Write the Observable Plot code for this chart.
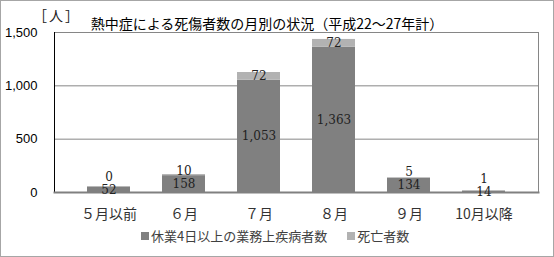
<!DOCTYPE html>
<html><head><meta charset="utf-8">
<script src="https://cdn.jsdelivr.net/npm/d3@7"></script>
<script src="https://cdn.jsdelivr.net/npm/@observablehq/plot@0.6"></script>
<style>
body{margin:0;background:#fff;}
#wrap{position:relative;width:554px;height:257px;outline:1px solid #a6a6a6;outline-offset:-1px;overflow:hidden;font-family:"Noto Sans CJK JP",sans-serif;background:#fff;}
#wrap svg{position:absolute;left:0;top:0;}
#title{position:absolute;left:0;width:534px;text-align:center;top:16px;font-size:14px;line-height:14px;color:#000;white-space:nowrap;}
#unit{position:absolute;left:33px;top:8px;font-size:14px;line-height:14px;color:#222;letter-spacing:2px;}
#legend{position:absolute;left:141px;top:229px;font-size:13px;line-height:14px;color:#404040;display:flex;align-items:center;white-space:nowrap;}
#legend .sw{display:inline-block;width:8px;height:8px;margin-right:2px;}
#legend .item{display:flex;align-items:center;margin-right:20px;}
</style>
</head><body>
<div id="wrap"></div>
<script>
const categories = ["５月以前", "６月", "７月", "８月", "９月", "10月以降"];
const seriesNames = ["休業4日以上の業務上疾病者数", "死亡者数"];
const injured = [52, 158, 1053, 1363, 134, 14];
const deaths = [0, 10, 72, 72, 5, 1];
const yTicks = [0, 500, 1000, 1500];
const colors = ["#808080", "#b2b2b2"];
const titleText = "熱中症による死傷者数の月別の状況（平成22～27年計）";
const unitText = "［人］";

const rows = [];
categories.forEach((c, i) => {
  rows.push({cat: c, series: seriesNames[0], value: injured[i]});
  rows.push({cat: c, series: seriesNames[1], value: deaths[i]});
});
const darkRows = categories.map((c, i) => ({cat: c, d: injured[i], l: deaths[i]}));
const fmt = d3.format(",");
const pxPerUnit = 160 / 1500;

const plot = Plot.plot({
  width: 554,
  height: 257,
  marginTop: 32,
  marginBottom: 65,
  marginLeft: 54,
  marginRight: 16,
  style: {fontFamily: "'Liberation Sans', Arial, sans-serif", background: "transparent"},
  x: {domain: categories, padding: 0.43, label: null},
  y: {domain: [0, 1500], label: null},
  color: {domain: seriesNames, range: colors},
  marks: [
    Plot.ruleY(yTicks.filter(v => v > 0), {stroke: "#868686", strokeWidth: 1}),
    Plot.frame({anchor: "right", stroke: "#868686"}),
    Plot.barY(rows, {x: "cat", y: "value", fill: "series", order: seriesNames}),
    Plot.frame({anchor: "left", stroke: "#000"}),
    Plot.frame({anchor: "bottom", stroke: "#808080", strokeWidth: 2}),
    Plot.text(darkRows, {x: "cat", y: d => d.d / 2, text: d => fmt(d.d),
      fontFamily: "'DejaVu Serif', serif", fontSize: 12, fill: "#222"}),
    Plot.text(darkRows, {x: "cat",
      y: d => Math.max(d.d + d.l / 2, d.d / 2 + 13 / pxPerUnit),
      text: d => fmt(d.l),
      fontFamily: "'DejaVu Serif', serif", fontSize: 12, fill: "#222"}),
    Plot.axisY({ticks: yTicks, tickFormat: fmt, tickSize: 0, tickPadding: 17,
      fontSize: 13, fill: "#000"}),
    Plot.axisX({tickSize: 0, tickPadding: 17, fontSize: 14,
      fontFamily: "'Noto Sans CJK JP', sans-serif", fill: "#333"})
  ]
});

const wrap = document.getElementById("wrap");
wrap.appendChild(plot);

const unit = document.createElement("div");
unit.id = "unit"; unit.textContent = unitText; wrap.appendChild(unit);
const title = document.createElement("div");
title.id = "title"; title.textContent = titleText; wrap.appendChild(title);

const legend = document.createElement("div");
legend.id = "legend";
seriesNames.forEach((s, i) => {
  const item = document.createElement("span");
  item.className = "item";
  const sw = document.createElement("span");
  sw.className = "sw"; sw.style.background = colors[i];
  item.appendChild(sw);
  item.appendChild(document.createTextNode(s));
  legend.appendChild(item);
});
wrap.appendChild(legend);
</script>
</body></html>
